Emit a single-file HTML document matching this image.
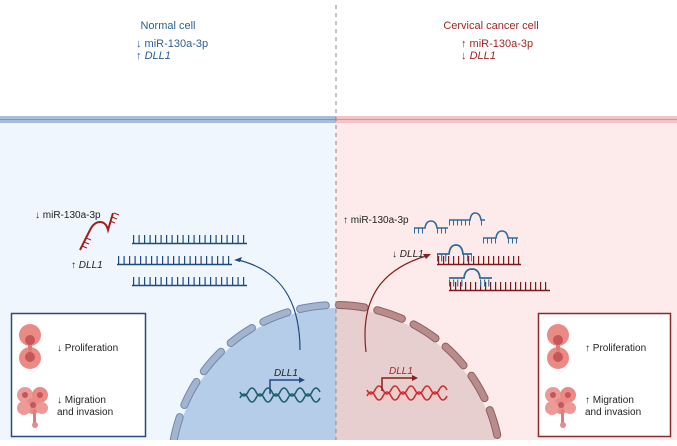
<!DOCTYPE html>
<html><head><meta charset="utf-8"><style>
html,body{margin:0;padding:0;background:#fff;width:677px;height:446px;overflow:hidden}
svg{display:block;font-family:"Liberation Sans",sans-serif}
</style></head><body>
<svg width="677" height="446" viewBox="0 0 677 446" xmlns="http://www.w3.org/2000/svg">
<defs>
<clipPath id="cl"><rect x="0" y="123" width="336" height="317"/></clipPath>
<clipPath id="cr"><rect x="336" y="123" width="341" height="317"/></clipPath>
</defs>
<rect x="0" y="123" width="336" height="317" fill="#eff6fd"/>
<rect x="336" y="123" width="341" height="317" fill="#fdeaea"/>
<rect x="0" y="116" width="336" height="7" fill="#a9bcdc"/>
<line x1="0" y1="119.5" x2="336" y2="119.5" stroke="#7f97c2" stroke-width="1"/>
<rect x="336" y="116" width="341" height="7" fill="#f4c4c4"/>
<line x1="336" y1="119.5" x2="677" y2="119.5" stroke="#c99a9a" stroke-width="1"/>

<g clip-path="url(#cl)">
<circle cx="336" cy="470" r="162" fill="#b6cdea"/>
<circle cx="336" cy="470" r="165" fill="none" stroke="#7487a8" stroke-width="8" stroke-dasharray="26 13" stroke-linecap="round"/>
<circle cx="336" cy="470" r="165" fill="none" stroke="#a3b4d0" stroke-width="6" stroke-dasharray="26 13" stroke-linecap="round"/>
</g>
<g clip-path="url(#cr)">
<circle cx="336" cy="470" r="162" fill="#e8cfcf"/>
<circle cx="336" cy="470" r="165" fill="none" stroke="#8c6060" stroke-width="8" stroke-dasharray="26 13" stroke-linecap="round"/>
<circle cx="336" cy="470" r="165" fill="none" stroke="#b98c8c" stroke-width="6" stroke-dasharray="26 13" stroke-linecap="round"/>
</g>
<line x1="336" y1="5" x2="336" y2="440" stroke="#888" stroke-width="1" stroke-dasharray="4 4"/>

<g font-size="11" fill="#2c5f94">
<text x="168" y="29" text-anchor="middle">Normal cell</text>
<text x="136" y="47">↓ miR-130a-3p</text>
<text x="136" y="59">↑ <tspan font-style="italic">DLL1</tspan></text>
</g>
<g font-size="11" fill="#a32626">
<text x="491" y="29" text-anchor="middle">Cervical cancer cell</text>
<text x="461" y="47">↑ miR-130a-3p</text>
<text x="461" y="59">↓ <tspan font-style="italic">DLL1</tspan></text>
</g>

<g stroke="#1f4a7e" fill="none">
<line x1="132" y1="243.5" x2="247" y2="243.5" stroke-width="1.6"/>
<line x1="133" y1="239" x2="247" y2="239" stroke-width="8" stroke-dasharray="1.2 4.3"/>
<line x1="117" y1="264.5" x2="232" y2="264.5" stroke-width="1.6"/>
<line x1="118" y1="260" x2="232" y2="260" stroke-width="8" stroke-dasharray="1.2 4.3"/>
<line x1="132" y1="285.5" x2="247" y2="285.5" stroke-width="1.6"/>
<line x1="133" y1="281" x2="247" y2="281" stroke-width="8" stroke-dasharray="1.2 4.3"/>
<path d="M300 350 C300 300 280 270 238 260" stroke-width="1.2"/>
</g>
<path d="M234 260 l8 -3 l-2 5 z" fill="#1f4a7e"/>
<g stroke="#a31d1d" fill="none" stroke-width="2">
<path d="M80 250 L90 230 Q94 222 100 222 Q106 222 108 230 L113 213"/>
<path d="M86 238 l5 2 M84 242 l5 2 M82 246 l5 2" stroke-width="1.2"/>
<path d="M110 221 l5 2 M112 217 l5 2 M114 213 l5 2" stroke-width="1.2"/>
</g>
<g font-size="10" fill="#222">
<text x="35" y="218">↓ miR-130a-3p</text>
<text x="71" y="268">↑ <tspan font-style="italic">DLL1</tspan></text>
</g>

<g stroke="#1d5f66" fill="none" stroke-width="1.6">
<path d="M240 392 q4 8 8 0 t8 0 t8 0 t8 0 t8 0 t8 0 t8 0 t8 0 t8 0 t8 0"/>
<path d="M240 398 q4 -8 8 0 t8 0 t8 0 t8 0 t8 0 t8 0 t8 0 t8 0 t8 0 t8 0"/>
</g>
<path d="M270 394 V380 H300" stroke="#1f4a7e" stroke-width="1.5" fill="none"/>
<path d="M305 380 l-6 -3 v6 z" fill="#1f4a7e"/>
<text x="274" y="376" font-size="10" font-style="italic" fill="#222">DLL1</text>

<g stroke="#d42a2a" fill="none" stroke-width="1.6">
<path d="M367 390 q4 8 8 0 t8 0 t8 0 t8 0 t8 0 t8 0 t8 0 t8 0 t8 0 t8 0"/>
<path d="M367 396 q4 -8 8 0 t8 0 t8 0 t8 0 t8 0 t8 0 t8 0 t8 0 t8 0 t8 0"/>
</g>
<path d="M382 391 V378 H413" stroke="#8b1e1e" stroke-width="1.5" fill="none"/>
<path d="M418 378 l-6 -3 v6 z" fill="#8b1e1e"/>
<text x="389" y="374" font-size="10" font-style="italic" fill="#a32626">DLL1</text>
<path d="M366 352 C360 300 380 270 426 256" stroke="#8b1e1e" stroke-width="1.2" fill="none"/>
<path d="M431 254 l-8 0 l3 5 z" fill="#8b1e1e"/>

<g stroke="#7a1a1a" fill="none">
<line x1="437" y1="264.5" x2="521" y2="264.5" stroke-width="1.6"/>
<line x1="438" y1="260" x2="521" y2="260" stroke-width="8" stroke-dasharray="1.2 3.8"/>
<line x1="449" y1="290.5" x2="550" y2="290.5" stroke-width="1.6"/>
<line x1="450" y1="286" x2="550" y2="286" stroke-width="8" stroke-dasharray="1.2 3.8"/>
</g>
<g stroke="#2f6c98" fill="none">
<path d="M437 254 H449 Q450 245 456 245 Q462 245 463 254 H472" stroke-width="1.8"/>
<line x1="437" y1="258" x2="449" y2="258" stroke-width="7" stroke-dasharray="1.1 3"/>
<line x1="463" y1="258" x2="472" y2="258" stroke-width="7" stroke-dasharray="1.1 3"/>
<path d="M449 278 H464 Q465 269 472 269 Q479 269 480 278 H492" stroke-width="1.8"/>
<line x1="449" y1="283" x2="464" y2="283" stroke-width="7" stroke-dasharray="1.1 3"/>
<line x1="480" y1="283" x2="492" y2="283" stroke-width="7" stroke-dasharray="1.1 3"/>
<path d="M414 228 H425 Q426 221 431 221 Q436 221 437 228 H448" stroke-width="1.6"/>
<line x1="414" y1="231" x2="425" y2="231" stroke-width="5" stroke-dasharray="1 3"/>
<line x1="437" y1="231" x2="448" y2="231" stroke-width="5" stroke-dasharray="1 3"/>
<path d="M449 220 H470 Q471 213 475 213 Q480 213 481 220 H485" stroke-width="1.6"/>
<line x1="449" y1="223" x2="470" y2="223" stroke-width="5" stroke-dasharray="1 3"/>
<line x1="481" y1="223" x2="485" y2="223" stroke-width="5" stroke-dasharray="1 3"/>
<path d="M483 238 H496 Q497 231 502 231 Q507 231 508 238 H518" stroke-width="1.6"/>
<line x1="483" y1="241" x2="496" y2="241" stroke-width="5" stroke-dasharray="1 3"/>
<line x1="508" y1="241" x2="518" y2="241" stroke-width="5" stroke-dasharray="1 3"/>
</g>
<g font-size="10" fill="#222">
<text x="343" y="223">↑ miR-130a-3p</text>
<text x="392" y="257">↓ <tspan font-style="italic">DLL1</tspan></text>
</g>

<rect x="11.5" y="313.5" width="134" height="123" fill="#fff" stroke="#2a4a7c" stroke-width="1.5"/>
<rect x="538.5" y="313.5" width="132" height="123" fill="#fff" stroke="#8b2a2a" stroke-width="1.5"/>
<g id="icons">
<circle cx="30" cy="335" r="11" fill="#ea8a85"/>
<circle cx="30" cy="358" r="11" fill="#ea8a85"/>
<rect x="28" y="338" width="4" height="20" fill="#e07b76"/>
<circle cx="30" cy="340" r="5" fill="#c5565a"/>
<circle cx="30" cy="357" r="5" fill="#c5565a"/>
<circle cx="25" cy="395" r="8" fill="#ec9a95"/>
<circle cx="40" cy="395" r="8" fill="#ea8a85"/>
<circle cx="33" cy="406" r="8" fill="#ea8a85"/>
<circle cx="24" cy="408" r="7" fill="#ec9a95"/>
<circle cx="42" cy="408" r="6" fill="#ec9a95"/>
<circle cx="33" cy="405" r="3" fill="#c5565a"/>
<circle cx="25" cy="395" r="3" fill="#c5565a"/>
<circle cx="40" cy="395" r="3" fill="#c5565a"/>
<rect x="33" y="410" width="3" height="13" fill="#e07b76"/>
<circle cx="35" cy="425" r="3" fill="#ea8a85"/>
</g>
<use href="#icons" x="528"/>
<g font-size="10" fill="#222">
<text x="57" y="351">↓ Proliferation</text>
<text x="57" y="403">↓ Migration</text>
<text x="57" y="415">and invasion</text>
<text x="585" y="351">↑ Proliferation</text>
<text x="585" y="403">↑ Migration</text>
<text x="585" y="415">and invasion</text>
</g>
</svg>
</body></html>
